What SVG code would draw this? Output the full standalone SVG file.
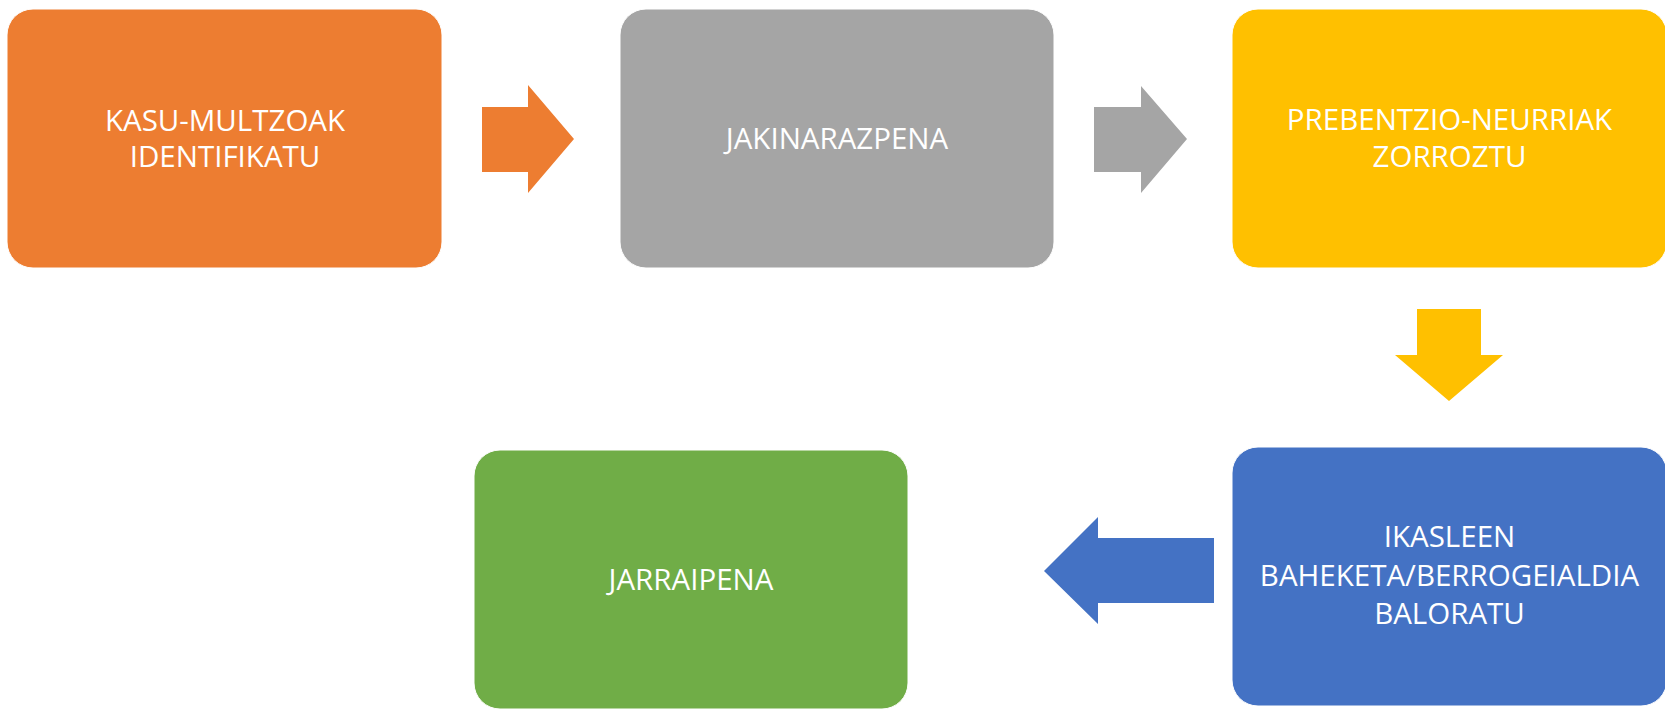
<svg xmlns="http://www.w3.org/2000/svg" width="1665" height="714" viewBox="0 0 1665 714">
<style>
.box{stroke:#ffffff;stroke-width:1}
.lbl{font-family:"Open Sans","Liberation Sans",sans-serif;font-size:29.5px;fill:#ffffff;text-anchor:middle}
</style>
<rect width="1665" height="714" fill="#ffffff"/>
<g id="connectors">
<polygon points="482,107 528,107 528,85 574,139 528,193 528,172 482,172" fill="#ED7D31"/>
<polygon points="1094,107 1141,107 1141,86 1187,139 1141,193 1141,172 1094,172" fill="#A5A5A5"/>
<polygon points="1417,309 1481,309 1481,355 1503,355 1449,401 1395,355 1417,355" fill="#FFC000"/>
<polygon points="1214,538 1098,538 1098,517 1044,571 1098,624 1098,603 1214,603" fill="#4472C4"/>
</g>
<g id="node-kasu">
<rect class="box" x="7" y="9" width="435" height="259" rx="26" fill="#ED7D31"/>
<text class="lbl" x="225" y="131">KASU-MULTZOAK</text>
<text class="lbl" x="225" y="167">IDENTIFIKATU</text>
</g>
<g id="node-jakinarazpena">
<rect class="box" x="620" y="9" width="434" height="259" rx="26" fill="#A5A5A5"/>
<text class="lbl" x="837" y="149">JAKINARAZPENA</text>
</g>
<g id="node-prebentzio">
<rect class="box" x="1232" y="9" width="435" height="259" rx="26" fill="#FFC000"/>
<text class="lbl" x="1449.5" y="130">PREBENTZIO-NEURRIAK</text>
<text class="lbl" x="1449.5" y="167">ZORROZTU</text>
</g>
<g id="node-ikasleen">
<rect class="box" x="1232" y="447" width="435" height="259" rx="26" fill="#4472C4"/>
<text class="lbl" x="1449.5" y="547">IKASLEEN</text>
<text class="lbl" x="1449.5" y="585.5">BAHEKETA/BERROGEIALDIA</text>
<text class="lbl" x="1449.5" y="624">BALORATU</text>
</g>
<g id="node-jarraipena">
<rect class="box" x="474" y="450" width="434" height="259" rx="26" fill="#70AD47"/>
<text class="lbl" x="691" y="590">JARRAIPENA</text>
</g>
</svg>
